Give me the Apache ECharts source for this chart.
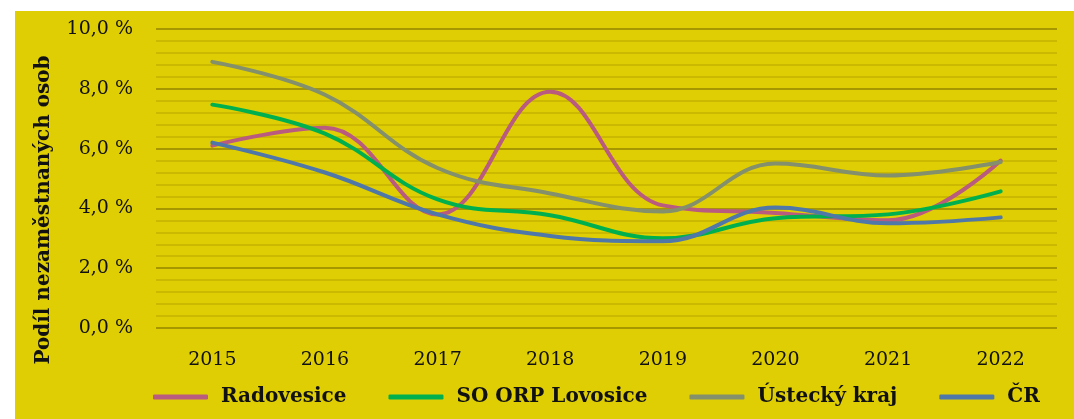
<!DOCTYPE html>
<html>
<head>
<meta charset="utf-8">
<script src="https://cdn.jsdelivr.net/npm/echarts@6/dist/echarts.min.js"></script>
<style>
  html, body { margin: 0; padding: 0; background: #fff; }
  #chart { position: absolute; left: 15px; top: 11px; width: 1059px; height: 408px; }
</style>
</head>
<body>
<div id="chart"></div>
<script>
// roky a podíly nezaměstnaných (%)
const years = ['2015', '2016', '2017', '2018', '2019', '2020', '2021', '2022'];
const radovesice = [6.1, 6.7, 3.8, 7.9, 4.1, 3.85, 3.6, 5.6];
const orpLovosice = [7.47, 6.5, 4.3, 3.77, 3.0, 3.67, 3.8, 4.57];
const ustecky = [8.9, 7.8, 5.35, 4.5, 3.9, 5.5, 5.1, 5.55];
const cr = [6.2, 5.2, 3.8, 3.08, 2.9, 4.03, 3.5, 3.7];
const seriesNames = ['Radovesice', 'SO ORP Lovosice', 'Ústecký kraj', 'ČR'];

const font = '"DejaVu Serif", "Liberation Serif", serif';
const chart = echarts.init(document.getElementById('chart'));

function line(name, data, color) {
  return {
    name: name,
    type: 'line',
    data: data,
    smooth: 0.4,
    symbol: 'none',
    lineStyle: { width: 4, color: color, cap: 'round' },
    itemStyle: { color: color }
  };
}

chart.setOption({
  backgroundColor: '#dfce03',
  animation: false,
  grid: { left: 141, right: 17, top: 18, bottom: 91 },
  xAxis: {
    type: 'category',
    data: years,
    axisLine: { show: false },
    axisTick: { show: false },
    axisLabel: { color: '#111', fontFamily: font, fontSize: 19, margin: 23 }
  },
  yAxis: {
    type: 'value',
    min: 0,
    max: 10,
    interval: 2,
    axisLine: { show: false },
    axisTick: { show: false },
    axisLabel: {
      color: '#111', fontFamily: font, fontSize: 19, margin: 23,
      formatter: v => v.toFixed(1).replace('.', ',') + ' %'
    },
    splitLine: { lineStyle: { color: '#938500', width: 1.5 } },
    minorTick: { show: false, splitNumber: 5 },
    minorSplitLine: { show: true, lineStyle: { color: '#c3b300', width: 1.5 } }
  },
  legend: {
    data: seriesNames,
    left: 138,
    top: 376,
    padding: 0,
    icon: 'roundRect',
    itemWidth: 55,
    itemHeight: 5,
    itemGap: 42,
    textStyle: { color: '#111', fontFamily: font, fontSize: 20, fontWeight: 'bold', padding: [0, 0, 0, 8] }
  },
  graphic: [{
    type: 'text',
    x: 29,
    y: 199,
    rotation: Math.PI / 2,
    style: {
      text: 'Podíl nezaměstnaných osob',
      font: 'bold 20px ' + font,
      fill: '#111',
      align: 'center',
      verticalAlign: 'middle'
    }
  }],
  series: [
    line(seriesNames[0], radovesice, '#b95b7e'),
    line(seriesNames[1], orpLovosice, '#00b04f'),
    line(seriesNames[2], ustecky, '#83906b'),
    line(seriesNames[3], cr, '#4f78a9')
  ]
});
</script>
</body>
</html>
